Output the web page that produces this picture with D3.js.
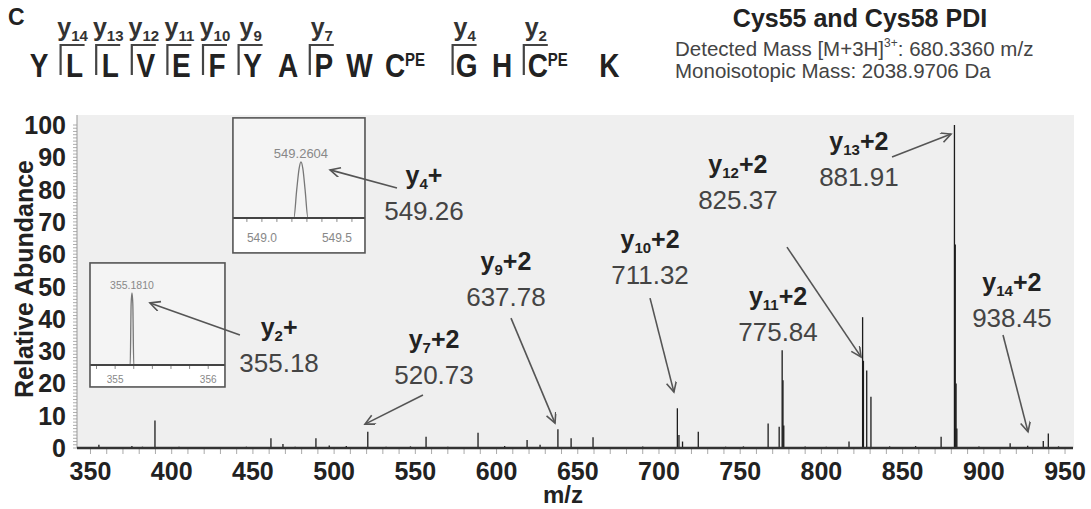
<!DOCTYPE html>
<html>
<head>
<meta charset="utf-8">
<script src="https://cdn.jsdelivr.net/npm/d3@7"></script>
<style>
body { margin: 0; background: #fff; }
svg { display: block; font-family: "Liberation Sans", Arial, sans-serif; }
</style>
</head>
<body>
<svg id="chart" width="1091" height="509"></svg>
<script>
// ---- data ----
const peakMz = [355.18, 362.5, 375.5, 382.0, 389.7, 404.5, 431.0, 446.0, 461.1, 468.5, 476.0, 488.8, 497.0, 507.5,
  520.73, 532.0, 547.0, 556.6, 570.0, 588.6, 605.0, 618.8, 626.8, 637.78, 645.9, 659.4, 690.0, 711.32, 712.3, 714.5,
  724.2, 741.0, 752.0, 767.2, 774.0, 775.84, 776.34, 776.84, 790.0, 803.0, 817.0, 825.37, 825.87, 827.9, 830.5,
  842.0, 858.0, 873.7, 881.91, 882.41, 882.91, 883.4, 897.0, 916.2, 927.0, 936.6, 939.7, 946.0];
const peakInt = [1.0, 0.3, 0.6, 0.4, 8.5, 0.4, 0.3, 0.4, 3.0, 1.2, 0.4, 3.0, 0.8, 0.6,
  5.0, 0.4, 0.5, 3.5, 0.4, 4.7, 0.6, 2.5, 1.0, 5.8, 3.0, 3.3, 0.5, 12.3, 4.0, 2.0,
  5.0, 0.4, 0.5, 7.6, 6.6, 30.3, 21.0, 7.0, 0.5, 0.4, 2.0, 40.5, 27.0, 24.0, 15.9,
  0.5, 0.6, 3.5, 100, 63, 20, 6, 0.5, 1.5, 0.7, 2.2, 4.5, 0.5];

const xTickLabels = [350, 400, 450, 500, 550, 600, 650, 700, 750, 800, 850, 900, 950];
const yTickLabels = [0, 10, 20, 30, 40, 50, 60, 70, 80, 90, 100];

// annotated y ions
const ionNumber = ["2", "4", "7", "9", "10", "11", "12", "13", "14"];
const ionCharge = ["+", "+", "+2", "+2", "+2", "+2", "+2", "+2", "+2"];
const ionMzText = ["355.18", "549.26", "520.73", "637.78", "711.32", "775.84", "825.37", "881.91", "938.45"];

// zoomed insets (profile points)
const inset549Mz = [548.85, 549.213, 549.232, 549.248, 549.2604, 549.273, 549.288, 549.307, 549.65];
const inset549Int = [0, 0, 50, 88, 100, 88, 50, 0, 0];
const inset355Mz = [354.8, 355.162, 355.172, 355.181, 355.190, 355.200, 356.1];
const inset355Int = [0, 0, 85, 100, 85, 0, 0];

// peptide sequence
const residues = ["Y", "L", "L", "V", "E", "F", "Y", "A", "P", "W", "C", "G", "H", "C", "K"];
const residueMods = ["", "", "", "", "", "", "", "", "", "", "PE", "", "", "PE", ""];
const yIonBrackets = [14, 13, 12, 11, 10, 9, 7, 4, 2];

// ---- layout ----
const svg = d3.select("#chart");
const x = d3.scaleLinear().domain([341.7, 954.9]).range([77, 1073]);
const y = d3.scaleLinear().domain([0, 100]).range([448, 125]);

svg.append("rect")
  .attr("x", 77).attr("y", 115)
  .attr("width", 997).attr("height", 333)
  .attr("fill", "#efefef");

svg.append("defs").append("marker")
  .attr("id", "arr")
  .attr("markerUnits", "userSpaceOnUse")
  .attr("markerWidth", 14).attr("markerHeight", 12)
  .attr("refX", 11).attr("refY", 5)
  .attr("orient", "auto")
  .append("path")
  .attr("d", "M1,0 L11,5 L1,10")
  .attr("fill", "none")
  .attr("stroke", "#555")
  .attr("stroke-width", 1.6);

// y minor ticks + labels
svg.append("g").selectAll("line")
  .data(d3.range(0, 101, 1))
  .enter().append("line")
  .attr("x1", 73).attr("x2", 77)
  .attr("y1", d => y(d)).attr("y2", d => y(d))
  .attr("stroke", "#999").attr("stroke-width", 0.8);
svg.append("line").attr("x1", 77).attr("x2", 77).attr("y1", 115).attr("y2", 448)
  .attr("stroke", "#999").attr("stroke-width", 1);
svg.append("g").selectAll("text")
  .data(yTickLabels)
  .enter().append("text")
  .attr("x", 66).attr("y", d => y(d)).attr("dy", "0.36em")
  .attr("text-anchor", "end")
  .attr("font-size", 25).attr("font-weight", "bold").attr("fill", "#222")
  .text(d => d);

// x minor ticks + labels
svg.append("g").selectAll("line")
  .data(d3.range(350, 951, 10))
  .enter().append("line")
  .attr("x1", d => x(d)).attr("x2", d => x(d))
  .attr("y1", 449).attr("y2", 454)
  .attr("stroke", "#aaa").attr("stroke-width", 1);
svg.append("g").selectAll("text")
  .data(xTickLabels)
  .enter().append("text")
  .attr("x", d => x(d)).attr("y", 480)
  .attr("text-anchor", "middle")
  .attr("font-size", 25).attr("font-weight", "bold").attr("fill", "#222")
  .text(d => d);

svg.append("text")
  .attr("transform", "translate(33,279) rotate(-90)")
  .attr("text-anchor", "middle")
  .attr("font-size", 25).attr("font-weight", "bold").attr("fill", "#222")
  .text("Relative Abundance");
svg.append("text")
  .attr("x", 563).attr("y", 503)
  .attr("text-anchor", "middle")
  .attr("font-size", 24).attr("font-weight", "bold").attr("fill", "#222")
  .text("m/z");

// peaks
svg.append("g").selectAll("line")
  .data(peakMz.map((m, i) => [m, peakInt[i]]))
  .enter().append("line")
  .attr("x1", d => x(d[0])).attr("x2", d => x(d[0]))
  .attr("y1", y(0)).attr("y2", d => y(d[1]))
  .attr("stroke", "#1c1c1c").attr("stroke-width", 1.3);

svg.append("line").attr("x1", 77).attr("x2", 1073).attr("y1", 448).attr("y2", 448)
  .attr("stroke", "#333").attr("stroke-width", 2.6);

// insets
function drawInset(o) {
  let bx0 = x(o.m0), bx1 = x(o.m1), by0 = y(o.a1), by1 = y(o.a0);
  let axisY = by1 - o.band;
  let g = svg.append("g");
  g.append("rect").attr("x", bx0).attr("y", by0).attr("width", bx1 - bx0).attr("height", axisY - by0)
    .attr("fill", "#f4f4f4");
  g.append("rect").attr("x", bx0).attr("y", axisY).attr("width", bx1 - bx0).attr("height", by1 - axisY)
    .attr("fill", "#fff");
  let ix = d3.scaleLinear().domain(o.domain).range([bx0, bx1]);
  let iy = d3.scaleLinear().domain([0, 100]).range([axisY, by0 + o.top]);
  g.append("path")
    .datum(o.mz.map((m, i) => [m, o.ints[i]]))
    .attr("d", d3.line().x(d => ix(d[0])).y(d => iy(d[1])).curve(d3.curveMonotoneX))
    .attr("fill", "none").attr("stroke", "#777").attr("stroke-width", 1.3);
  g.selectAll(".tk").data(o.ticks).enter().append("line")
    .attr("x1", d => ix(d)).attr("x2", d => ix(d))
    .attr("y1", axisY).attr("y2", axisY + 4)
    .attr("stroke", "#888").attr("stroke-width", 1);
  g.append("line").attr("x1", bx0).attr("x2", bx1).attr("y1", axisY).attr("y2", axisY)
    .attr("stroke", "#444").attr("stroke-width", 2);
  g.selectAll(".tl").data(o.labels).enter().append("text")
    .attr("x", d => ix(d)).attr("y", axisY + o.labelDy)
    .attr("text-anchor", "middle").attr("font-size", o.labelSize).attr("fill", "#888")
    .text(d => d3.format(o.fmt)(d));
  g.append("text")
    .attr("x", ix(o.peak)).attr("y", iy(100) - 4)
    .attr("text-anchor", "middle").attr("font-size", o.peakSize).attr("fill", "#888")
    .text(o.peakText);
  g.append("rect").attr("x", bx0).attr("y", by0).attr("width", bx1 - bx0).attr("height", by1 - by0)
    .attr("fill", "none").attr("stroke", "#555").attr("stroke-width", 1.6);
}

drawInset({
  m0: 437.7, m1: 519.0, a0: 60.4, a1: 102.2, band: 35, top: 44,
  domain: [548.807, 549.687], mz: inset549Mz, ints: inset549Int,
  ticks: d3.range(548.9, 549.65, 0.1), labels: [549.0, 549.5], fmt: ".1f",
  labelDy: 24, labelSize: 12, peak: 549.2604, peakText: "549.2604", peakSize: 13
});
drawInset({
  m0: 349.7, m1: 432.8, a0: 18.9, a1: 57.3, band: 22, top: 30,
  domain: [354.73, 356.18], mz: inset355Mz, ints: inset355Int,
  ticks: d3.range(354.8, 356.1, 0.2), labels: [355, 356], fmt: "d",
  labelDy: 18, labelSize: 10, peak: 355.181, peakText: "355.1810", peakSize: 10.5
});

// ion labels and arrows (positions in data units)
const ionLayout = [
  { lx: 466.1, ly: 34.7, from: [442.0, 35.0], to: [386.6, 44.9] },
  { lx: 555.3, ly: 81.7, from: [538.7, 80.5], to: [497.5, 86.1] },
  { lx: 561.5, ly: 31.0, from: [554.7, 16.4], to: [519.0, 7.4] },
  { lx: 605.8, ly: 55.1, from: [608.9, 40.2], to: [636.0, 7.7] },
  { lx: 694.5, ly: 61.9, from: [694.5, 46.4], to: [709.2, 17.3] },
  { lx: 773.3, ly: 44.3 },
  { lx: 748.6, ly: 85.1, from: [778.8, 62.2], to: [824.4, 28.2] },
  { lx: 823.1, ly: 92.3, from: [843.5, 90.1], to: [879.8, 97.2] },
  { lx: 917.3, ly: 48.6, from: [911.8, 35.0], to: [927.2, 5.0] }
];

ionLayout.forEach((p, i) => {
  let cx = x(p.lx), by = y(p.ly);
  let t = svg.append("text")
    .attr("x", cx).attr("y", by)
    .attr("text-anchor", "middle")
    .attr("font-size", 25).attr("font-weight", "bold").attr("fill", "#222");
  t.append("tspan").text("y");
  t.append("tspan").attr("font-size", 15).attr("dy", 5).text(ionNumber[i]);
  t.append("tspan").attr("dy", -5).text(ionCharge[i]);
  svg.append("text")
    .attr("x", cx).attr("y", by + 36)
    .attr("text-anchor", "middle")
    .attr("font-size", 26).attr("fill", "#444")
    .text(ionMzText[i]);
  if (p.from) {
    svg.append("line")
      .attr("x1", x(p.from[0])).attr("y1", y(p.from[1]))
      .attr("x2", x(p.to[0])).attr("y2", y(p.to[1]))
      .attr("stroke", "#555").attr("stroke-width", 1.6)
      .attr("marker-end", "url(#arr)");
  }
});

// ---- header ----
svg.append("text").attr("x", 8).attr("y", 25)
  .attr("font-size", 23).attr("font-weight", "bold").attr("fill", "#222").text("C");

let seqX = [];
let cur = 39;
residues.forEach((r, i) => {
  seqX.push(cur);
  cur += 35.6 + (residueMods[i] ? 36 : 0);
});

let seq = svg.append("g");
residues.forEach((r, i) => {
  let g = seq.append("g").attr("transform", `translate(${seqX[i]},77) scale(1,1.2)`);
  g.append("text").attr("text-anchor", "middle")
    .attr("font-size", 28).attr("font-weight", "bold").attr("fill", "#222").text(r);
  if (residueMods[i]) {
    g.append("text").attr("x", 10).attr("y", -9)
      .attr("font-size", 15).attr("font-weight", "bold").attr("fill", "#222").text(residueMods[i]);
  }
});

yIonBrackets.forEach(n => {
  let c = seqX[residues.length - n];
  seq.append("path")
    .attr("d", `M${c - 14},75 V45 H${c + 10}`)
    .attr("fill", "none").attr("stroke", "#444").attr("stroke-width", 2.2);
  let t = seq.append("text").attr("x", c - 2).attr("y", 36)
    .attr("text-anchor", "middle")
    .attr("font-size", 25).attr("font-weight", "bold").attr("fill", "#333");
  t.append("tspan").text("y");
  t.append("tspan").attr("font-size", 15).attr("dy", 5).text(n);
});

svg.append("text").attr("x", 860).attr("y", 27)
  .attr("text-anchor", "middle")
  .attr("font-size", 25).attr("font-weight", "bold").attr("fill", "#222")
  .text("Cys55 and Cys58 PDI");
let l2 = svg.append("text").attr("x", 675).attr("y", 56)
  .attr("font-size", 20.5).attr("fill", "#444");
l2.append("tspan").text("Detected Mass [M+3H]");
l2.append("tspan").attr("font-size", 12).attr("dy", -9).text("3+");
l2.append("tspan").attr("dy", 9).text(": 680.3360 m/z");
svg.append("text").attr("x", 675).attr("y", 78)
  .attr("font-size", 20.5).attr("fill", "#444")
  .text("Monoisotopic Mass: 2038.9706 Da");
</script>
</body>
</html>
